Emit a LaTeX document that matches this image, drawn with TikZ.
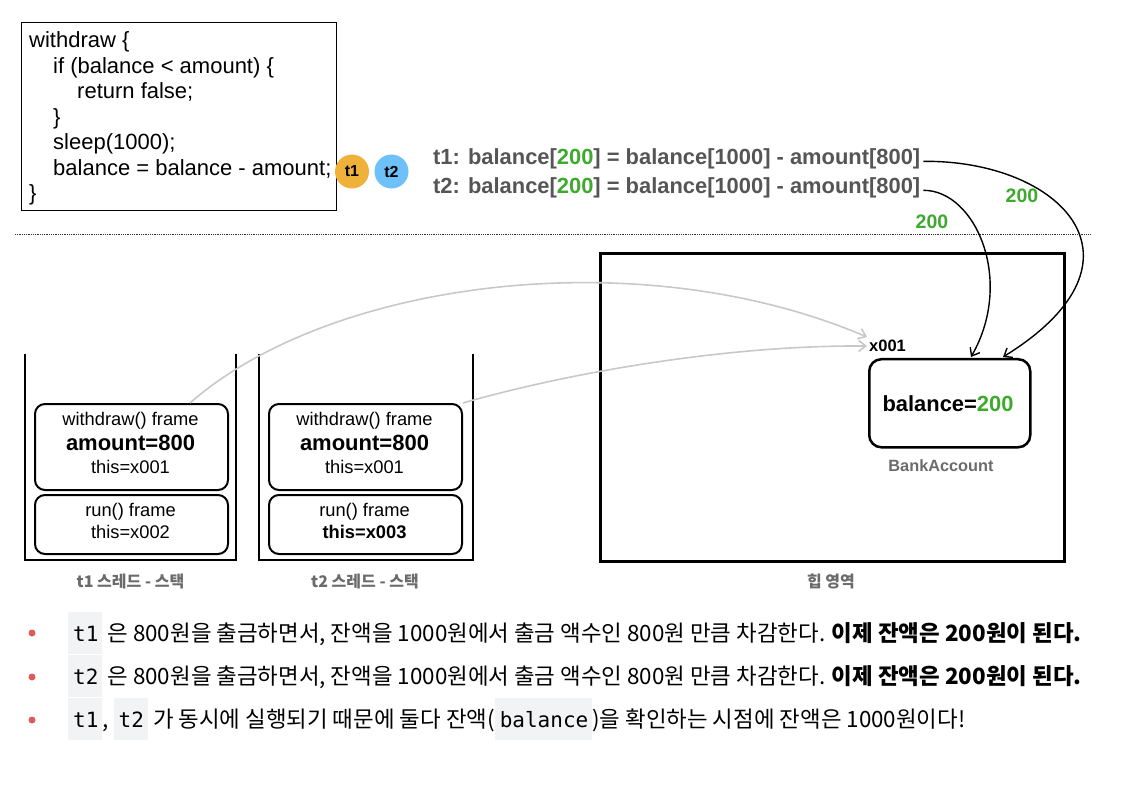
\documentclass[tikz,border=0pt]{standalone}
\usepackage{fontspec}
\setmainfont{Liberation Sans}
\newfontfamily\kr{Noto Sans CJK KR}
\newfontfamily\mono{DejaVu Sans Mono}
\usetikzlibrary{arrows.meta}
\definecolor{okgreen}{HTML}{3DAA2E}
\definecolor{tone}{HTML}{F0B13A}
\definecolor{ttwo}{HTML}{6DC0F8}
\definecolor{txtgray}{HTML}{555555}
\definecolor{lblgray}{HTML}{6B6B6B}
\definecolor{refgray}{HTML}{C8C8C8}
\definecolor{codebg}{HTML}{F2F3F5}
\definecolor{dotred}{HTML}{E05A5A}
\newcommand\ic[1]{{\setlength\fboxsep{0pt}\colorbox{codebg}{\hspace{5pt}\rule[-13pt]{0pt}{42pt}{\mono\fontsize{21}{24}\selectfont #1}\hspace{4pt}}}}
\tikzset{
  codeline/.style={anchor=base west, inner sep=0pt, font=\fontsize{22}{26}\selectfont},
  frame/.style={draw, line width=2pt, rounded corners=10pt},
  ftext/.style={inner sep=0pt, anchor=base, font=\fontsize{18.3}{20}\selectfont},
  fbold/.style={inner sep=0pt, anchor=base, font=\fontsize{22}{24}\selectfont\bfseries},
  klabel/.style={inner sep=0pt, anchor=base, text=lblgray, font=\kr\fontsize{16}{18}\selectfont\bfseries},
  eqline/.style={inner sep=0pt, anchor=base west, text=txtgray, font=\fontsize{21.9}{24}\selectfont\bfseries},
  refarrow/.style={draw=refgray, line width=1.6pt, -{Straight Barb[length=7pt,width=11pt]}},
  valarrow/.style={draw=black, line width=1.4pt, -{Straight Barb[length=7pt,width=11pt]}},
  bullet/.style={circle, fill=dotred, inner sep=0pt, minimum size=7pt},
  btext/.style={inner sep=0pt, anchor=base west, font=\kr\fontsize{22.4}{26}\selectfont},
  green200/.style={inner sep=0pt, anchor=base, text=okgreen, font=\fontsize{19.5}{22}\selectfont\bfseries},
}
\begin{document}
\begin{tikzpicture}[x=1pt,y=-1pt]
\useasboundingbox (0,0) rectangle (1125,786);
% code box
\node[draw, line width=1.2pt, minimum width=315pt, minimum height=188pt, anchor=north west, inner sep=0pt] (code) at (21,22) {};
\node[codeline] (c1) at (29,48) {withdraw \{};
\node[codeline] (c2) at (53,73.5) {if (balance < amount) \{};
\node[codeline] (c3) at (77,99) {return false;};
\node[codeline] (c4) at (53,124.5) {\}};
\node[codeline] (c5) at (53,150) {sleep(1000);};
\node[codeline] (c6) at (53,175.5) {balance = balance - amount;};
\node[codeline] (c7) at (29,201) {\}};
% thread markers
\node[circle, fill=tone, minimum size=34pt, inner sep=0pt, font=\fontsize{16}{17}\selectfont\bfseries] (m1) at (352,171.5) {t1};
\node[circle, fill=ttwo, minimum size=34pt, inner sep=0pt, font=\fontsize{16}{17}\selectfont\bfseries] (m2) at (391.5,171.5) {t2};
% equations
\node[eqline] (e1) at (433,165) {t1: balance[\textcolor{okgreen}{200}] = balance[1000] - amount[800]};
\node[eqline] (e2) at (433,194) {t2: balance[\textcolor{okgreen}{200}] = balance[1000] - amount[800]};
\node[green200] (g1) at (1022,203) {200};
\node[green200] (g2) at (932,229) {200};
% dotted separator
\coordinate (dl) at (15,234);
\coordinate (dr) at (1090,234);
\draw[line width=0.9pt, dash pattern=on 0.9pt off 0.9pt, draw=black!80] (dl) -- (dr);
% stacks
\draw[line width=2.5pt] (25,354) -- (25,560) -- (236,560) -- (236,354);
\draw[line width=2.5pt] (259,354) -- (259,560) -- (473,560) -- (473,354);
\node[frame, minimum width=193pt, minimum height=86pt, anchor=north west] (w1) at (34,403) {};
\node[frame, minimum width=193pt, minimum height=59pt, anchor=north west] (r1) at (34,494) {};
\node[frame, minimum width=193pt, minimum height=86pt, anchor=north west] (w2) at (268,403) {};
\node[frame, minimum width=193pt, minimum height=59pt, anchor=north west] (r2) at (268,494) {};
\node[ftext] (w1a) at (130.5,425) {withdraw() frame};
\node[fbold] (w1b) at (130.5,450) {amount=800};
\node[ftext] (w1c) at (130.5,473) {this=x001};
\node[ftext] (r1a) at (130.5,516) {run() frame};
\node[ftext] (r1b) at (130.5,538) {this=x002};
\node[ftext] (w2a) at (364.5,425) {withdraw() frame};
\node[fbold] (w2b) at (364.5,450) {amount=800};
\node[ftext] (w2c) at (364.5,473) {this=x001};
\node[ftext] (r2a) at (364.5,516) {run() frame};
\node[ftext, font=\fontsize{18.3}{20}\selectfont\bfseries] (r2b) at (364.5,538) {this=x003};
\node[klabel] (l1) at (130.5,587) {t1 스레드 - 스택};
\node[klabel] (l2) at (365,587) {t2 스레드 - 스택};
% heap
\node[draw, line width=3pt, minimum width=464pt, minimum height=308pt, anchor=north west, inner sep=0pt] (heap) at (599,252) {};
\node[klabel] (l3) at (831,587) {힙 영역};
\node[draw, line width=2.5pt, rounded corners=12pt, minimum width=161pt, minimum height=88pt, anchor=north west, inner sep=0pt] (acct) at (868,358) {};
\node[inner sep=0pt, anchor=base, font=\fontsize{21.9}{24}\selectfont\bfseries] (bal) at (948,411) {balance=\textcolor{okgreen}{200}};
\node[inner sep=0pt, anchor=base, text=lblgray, font=\fontsize{16.3}{18}\selectfont\bfseries] (bank) at (941,471) {BankAccount};
\node[inner sep=0pt, anchor=base west, font=\fontsize{16.5}{18}\selectfont\bfseries] (x1) at (869,352) {x001};
% reference arrows
\coordinate (s1) at (190,403);
\coordinate (s2) at (463,403);
\coordinate (a1) at (867,337);
\coordinate (a2) at (867,346);
\draw[refarrow] (s1) .. controls (330,280) and (640,240) .. (a1);
\draw[refarrow] (s2) .. controls (560,375) and (720,345) .. (a2);
% value arrows
\coordinate (v1) at (1003,357);
\coordinate (v2) at (971,357);
\draw[valarrow] ([xshift=3pt,yshift=-2pt]e1.east) .. controls (1060,160) and (1160,260) .. (v1);
\draw[valarrow] ([xshift=3pt,yshift=-2pt]e2.east) .. controls (975,190) and (1015,280) .. (v2);
% bullets
\node[bullet] (b1) at (32,633) {};
\node[bullet] (b2) at (32,677) {};
\node[bullet] (b3) at (32,720) {};
\node[btext] (t1) at (68,641) {\ic{t1} 은 800원을 출금하면서, 잔액을 1000원에서 출금 액수인 800원 만큼 차감한다. \textbf{이제 잔액은 200원이 된다.}};
\node[btext] (t2) at (68,684) {\ic{t2} 은 800원을 출금하면서, 잔액을 1000원에서 출금 액수인 800원 만큼 차감한다. \textbf{이제 잔액은 200원이 된다.}};
\node[btext] (t3) at (68,727) {\ic{t1}, \ic{t2} 가 동시에 실행되기 때문에 둘다 잔액(\ic{balance})을 확인하는 시점에 잔액은 1000원이다!};
\end{tikzpicture}
\end{document}
